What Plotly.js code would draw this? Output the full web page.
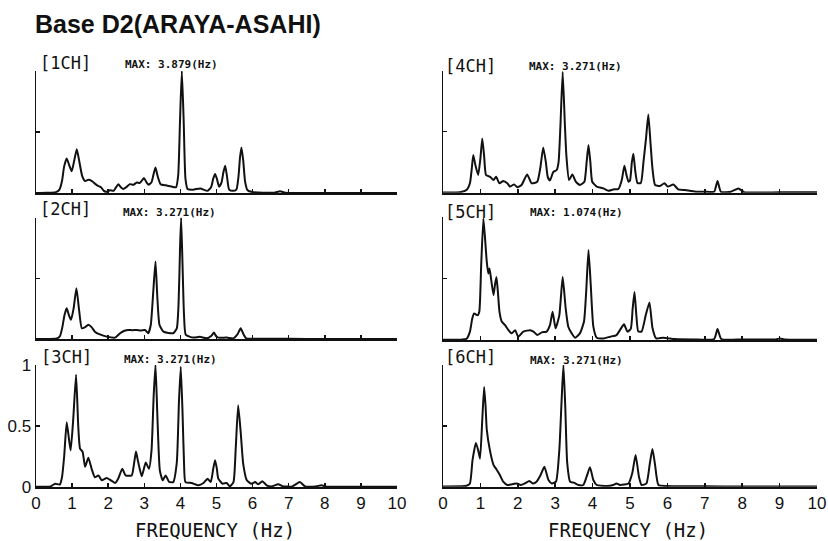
<!DOCTYPE html>
<html>
<head>
<meta charset="utf-8">
<script src="https://cdn.plot.ly/plotly-3.0.1.min.js"></script>
<style>
  html, body { margin: 0; padding: 0; background: #fff; }
  #chart { width: 828px; height: 541px; }
</style>
</head>
<body>
<div id="chart"></div>
<script>
// Normalised Fourier amplitude spectra, six channels (1CH..6CH)
const ch1Freq = [0,0.3,0.55,0.65,0.72,0.78,0.85,0.92,0.99,1.06,1.13,1.2,1.28,1.36,1.45,1.55,1.65,1.72,1.8,1.88,1.96,2.05,2.15,2.22,2.28,2.35,2.42,2.5,2.6,2.7,2.79,2.88,2.99,3.06,3.12,3.2,3.26,3.31,3.37,3.45,3.6,3.75,3.88,3.94,3.99,4.04,4.09,4.14,4.2,4.35,4.55,4.75,4.85,4.91,4.96,5.01,5.07,5.14,5.19,5.24,5.29,5.35,5.45,5.55,5.61,5.65,5.69,5.74,5.79,5.86,6.0,6.3,6.6,6.76,6.9,7.3,8,9,10];
const ch1Amp  = [0.003,0.005,0.01,0.03,0.1,0.22,0.285,0.23,0.18,0.27,0.36,0.26,0.14,0.1,0.11,0.1,0.075,0.06,0.05,0.02,0.012,0.025,0.02,0.05,0.075,0.05,0.035,0.05,0.075,0.07,0.088,0.085,0.125,0.09,0.07,0.09,0.16,0.21,0.14,0.075,0.065,0.055,0.05,0.15,0.6,1.0,0.6,0.12,0.035,0.03,0.04,0.02,0.05,0.12,0.158,0.12,0.055,0.09,0.17,0.225,0.14,0.03,0.02,0.03,0.14,0.29,0.375,0.27,0.1,0.025,0.01,0.005,0.005,0.016,0.005,0.002,0.003,0.002,0.002];

const ch2Freq = [0,0.4,0.6,0.67,0.73,0.79,0.85,0.91,0.97,1.04,1.12,1.19,1.27,1.36,1.45,1.54,1.63,1.77,1.96,2.19,2.33,2.45,2.56,2.67,2.79,2.9,3.02,3.11,3.18,3.25,3.31,3.36,3.42,3.53,3.8,3.9,3.95,3.99,4.02,4.06,4.1,4.15,4.36,4.54,4.73,4.86,4.93,4.99,5.05,5.28,5.47,5.58,5.67,5.75,5.82,6.1,7,8,9,10];
const ch2Amp  = [0.002,0.003,0.01,0.03,0.1,0.2,0.255,0.2,0.16,0.25,0.42,0.25,0.09,0.1,0.12,0.1,0.063,0.04,0.022,0.014,0.05,0.07,0.077,0.075,0.077,0.072,0.077,0.05,0.12,0.4,0.64,0.35,0.12,0.063,0.05,0.09,0.3,0.75,1.0,0.6,0.2,0.036,0.014,0.02,0.008,0.03,0.055,0.025,0.014,0.014,0.008,0.04,0.09,0.04,0.008,0.005,0.004,0.003,0.003,0.003];

const ch3Freq = [0,0.4,0.53,0.66,0.72,0.78,0.85,0.91,0.96,1.03,1.11,1.17,1.22,1.29,1.36,1.45,1.54,1.63,1.73,1.82,1.96,2.1,2.19,2.28,2.39,2.48,2.65,2.72,2.77,2.82,2.86,2.93,3.04,3.13,3.2,3.26,3.31,3.36,3.43,3.51,3.59,3.69,3.8,3.9,3.96,4.01,4.06,4.1,4.14,4.31,4.5,4.64,4.75,4.84,4.91,4.96,5.01,5.05,5.17,5.28,5.37,5.47,5.53,5.6,5.67,5.74,5.84,5.97,6.07,6.16,6.27,6.39,6.53,6.71,6.85,7.1,7.31,7.45,7.75,7.91,8.05,9,10];
const ch3Amp  = [0.002,0.005,0.027,0.02,0.08,0.25,0.53,0.4,0.3,0.55,0.92,0.5,0.315,0.29,0.165,0.24,0.15,0.08,0.095,0.055,0.074,0.05,0.033,0.07,0.15,0.095,0.095,0.2,0.29,0.22,0.165,0.088,0.2,0.15,0.3,0.75,1.0,0.6,0.137,0.055,0.095,0.041,0.04,0.2,0.7,0.986,0.6,0.2,0.04,0.033,0.014,0.033,0.068,0.041,0.15,0.22,0.15,0.068,0.027,0.033,0.005,0.04,0.3,0.67,0.45,0.19,0.055,0.027,0.04,0.022,0.047,0.014,0.005,0.022,0.005,0.005,0.04,0.005,0.005,0.014,0.003,0.002,0.002];

const ch4Freq = [0,0.45,0.63,0.72,0.77,0.81,0.87,0.94,1.0,1.05,1.1,1.15,1.26,1.35,1.42,1.51,1.61,1.72,1.79,1.9,1.99,2.1,2.25,2.37,2.52,2.6,2.68,2.75,2.8,2.86,2.95,3.04,3.09,3.14,3.2,3.26,3.3,3.37,3.46,3.55,3.66,3.78,3.84,3.89,3.94,3.99,4.11,4.29,4.42,4.55,4.69,4.78,4.85,4.91,4.96,5.0,5.05,5.09,5.14,5.2,5.29,5.36,5.43,5.49,5.55,5.6,5.67,5.8,5.92,6.01,6.16,6.29,6.47,6.6,6.78,7.0,7.25,7.34,7.43,7.7,7.9,8.05,9,10];
const ch4Amp  = [0.002,0.004,0.022,0.077,0.2,0.31,0.22,0.145,0.28,0.445,0.3,0.145,0.13,0.104,0.13,0.077,0.096,0.077,0.05,0.068,0.044,0.063,0.15,0.077,0.09,0.2,0.37,0.25,0.13,0.1,0.17,0.186,0.25,0.55,0.99,0.55,0.3,0.104,0.15,0.09,0.063,0.09,0.25,0.39,0.25,0.09,0.05,0.035,0.016,0.027,0.03,0.104,0.22,0.14,0.09,0.1,0.25,0.32,0.18,0.08,0.08,0.25,0.45,0.64,0.4,0.2,0.063,0.055,0.077,0.05,0.068,0.027,0.022,0.016,0.008,0.008,0.008,0.096,0.008,0.008,0.035,0.005,0.003,0.003];

const ch5Freq = [0,0.5,0.63,0.72,0.78,0.83,0.92,0.97,1.02,1.08,1.13,1.17,1.21,1.24,1.27,1.35,1.39,1.43,1.47,1.51,1.57,1.66,1.75,1.84,1.93,2.01,2.15,2.33,2.42,2.52,2.64,2.77,2.86,2.93,3.01,3.11,3.2,3.28,3.35,3.44,3.53,3.66,3.77,3.83,3.89,3.95,4.02,4.11,4.29,4.47,4.64,4.73,4.84,4.93,5.02,5.07,5.12,5.17,5.22,5.31,5.42,5.52,5.6,5.7,5.89,6.2,6.7,7.25,7.34,7.44,8,8.9,9.01,9.15,10];
const ch5Amp  = [0.002,0.003,0.01,0.068,0.17,0.216,0.2,0.23,0.6,0.986,0.8,0.635,0.54,0.58,0.53,0.365,0.45,0.51,0.38,0.23,0.15,0.12,0.08,0.054,0.08,0.027,0.068,0.08,0.068,0.04,0.062,0.068,0.12,0.23,0.095,0.2,0.51,0.257,0.108,0.054,0.019,0.054,0.15,0.4,0.73,0.45,0.108,0.019,0.013,0.027,0.04,0.08,0.127,0.068,0.09,0.25,0.39,0.2,0.07,0.068,0.2,0.305,0.1,0.013,0.019,0.008,0.005,0.008,0.089,0.008,0.005,0.005,0.013,0.004,0.003];

const ch6Freq = [0,0.5,0.63,0.72,0.79,0.88,0.94,0.99,1.05,1.1,1.14,1.17,1.26,1.35,1.44,1.52,1.61,1.72,1.88,1.97,2.08,2.19,2.31,2.4,2.5,2.61,2.71,2.82,2.91,3.02,3.11,3.17,3.22,3.27,3.32,3.4,3.5,3.62,3.75,3.84,3.93,4.02,4.11,4.38,4.55,4.64,4.73,4.96,5.06,5.15,5.24,5.31,5.44,5.53,5.6,5.67,5.76,5.98,7,8,10];
const ch6Amp  = [0.002,0.003,0.008,0.027,0.22,0.36,0.3,0.23,0.55,0.82,0.65,0.47,0.29,0.18,0.137,0.096,0.041,0.014,0.022,0.027,0.014,0.027,0.047,0.027,0.04,0.096,0.164,0.055,0.027,0.041,0.3,0.7,1.0,0.65,0.2,0.041,0.033,0.014,0.014,0.082,0.16,0.055,0.014,0.005,0.014,0.027,0.014,0.027,0.11,0.26,0.08,0.014,0.027,0.19,0.31,0.18,0.014,0.005,0.003,0.002,0.002];

const channelLabels = ['[1CH]', '[2CH]', '[3CH]', '[4CH]', '[5CH]', '[6CH]'];
const maxLabels = ['MAX: 3.879(Hz)', 'MAX: 3.271(Hz)', 'MAX: 3.271(Hz)', 'MAX: 3.271(Hz)', 'MAX: 1.074(Hz)', 'MAX: 3.271(Hz)'];
const freqTicks = [0, 1, 2, 3, 4, 5, 6, 7, 8, 9, 10];
const ampTicks = [0, 0.5, 1];
const ampTickText = ['0', '0.5', '1'];
const chartTitle = 'Base D2(ARAYA-ASAHI)';
const freqAxisTitle = 'FREQUENCY (Hz)';

const series = [
  [ch1Freq, ch1Amp], [ch2Freq, ch2Amp], [ch3Freq, ch3Amp],
  [ch4Freq, ch4Amp], [ch5Freq, ch5Amp], [ch6Freq, ch6Amp]
];

// pixel -> paper helpers (figure is 828 x 541 with zero margins)
const W = 828, H = 541;
const px = v => v / W;
const py = v => 1 - v / H;

// panel frames in pixels: [left, right, bottom, top]
const frames = [
  [36, 397, 193.3, 71], [36, 397, 339.3, 217.7], [36, 397, 487, 365],
  [443, 817, 192.7, 70.7], [443, 817, 340, 216.7], [443, 817, 486.7, 365]
];
// label anchor points in pixels: [chLabelX, chLabelY, maxX, maxY]
const labelPos = [
  [38, 63, 123, 65], [38, 209, 121, 212], [39, 357, 122, 359],
  [443, 66, 527, 66], [443, 212, 528, 212], [443, 357, 528, 360]
];

const mono = 'DejaVu Sans Mono, monospace';
const sans = 'Liberation Sans, Arial, sans-serif';

const traces = [];
const layout = {
  width: W, height: H,
  margin: {l: 0, r: 0, t: 0, b: 0},
  paper_bgcolor: '#ffffff',
  plot_bgcolor: '#ffffff',
  showlegend: false,
  annotations: []
};

series.forEach((s, i) => {
  const n = i + 1;
  const xa = n === 1 ? 'x' : 'x' + n;
  const ya = n === 1 ? 'y' : 'y' + n;
  traces.push({
    x: s[0], y: s[1], xaxis: xa, yaxis: ya,
    type: 'scatter', mode: 'lines',
    line: {color: '#111', width: 2, shape: 'spline', smoothing: 0.5},
    hoverinfo: 'skip'
  });
  const f = frames[i];
  const bottomRow = (i === 2 || i === 5);
  layout['xaxis' + (n === 1 ? '' : n)] = {
    domain: [px(f[0]), px(f[1])], anchor: ya, range: [0, 10],
    showline: true, linecolor: '#111', linewidth: 2,
    ticks: 'inside', ticklen: 4, tickwidth: 1.5, tickcolor: '#111',
    tickmode: 'array', tickvals: freqTicks,
    showticklabels: bottomRow,
    tickfont: {family: sans, size: 17, color: '#111'},
    showgrid: false, zeroline: false, fixedrange: true
  };
  layout['yaxis' + (n === 1 ? '' : n)] = {
    domain: [py(f[2]), py(f[3])], anchor: xa, range: [0, 1],
    showline: true, linecolor: '#111', linewidth: 1.5,
    ticks: 'inside', ticklen: 4, tickwidth: 1.5, tickcolor: '#111',
    tickmode: 'array', tickvals: ampTicks, ticktext: ampTickText,
    showticklabels: i === 2,
    tickfont: {family: sans, size: 17, color: '#111'},
    showgrid: false, zeroline: false, fixedrange: true
  };
  const lp = labelPos[i];
  layout.annotations.push({
    xref: 'paper', yref: 'paper', x: px(lp[0]), y: py(lp[1]),
    xanchor: 'left', yanchor: 'middle', showarrow: false,
    text: channelLabels[i], font: {family: mono, size: 17, color: '#111'}
  });
  layout.annotations.push({
    xref: 'paper', yref: 'paper', x: px(lp[2]), y: py(lp[3]),
    xanchor: 'left', yanchor: 'middle', showarrow: false,
    text: '<b>' + maxLabels[i] + '</b>', font: {family: mono, size: 11, color: '#111'}
  });
  if (bottomRow) {
    layout.annotations.push({
      xref: 'paper', yref: 'paper', x: px((f[0] + f[1]) / 2 - 2), y: py(530),
      xanchor: 'center', yanchor: 'middle', showarrow: false,
      text: freqAxisTitle, font: {family: mono, size: 19, color: '#111'}
    });
  }
});

layout.annotations.push({
  xref: 'paper', yref: 'paper', x: px(33), y: py(24),
  xanchor: 'left', yanchor: 'middle', showarrow: false,
  text: '<b>' + chartTitle + '</b>', font: {family: sans, size: 25, color: '#111'}
});

Plotly.newPlot('chart', traces, layout, {displayModeBar: false, staticPlot: true});
</script>
</body>
</html>
